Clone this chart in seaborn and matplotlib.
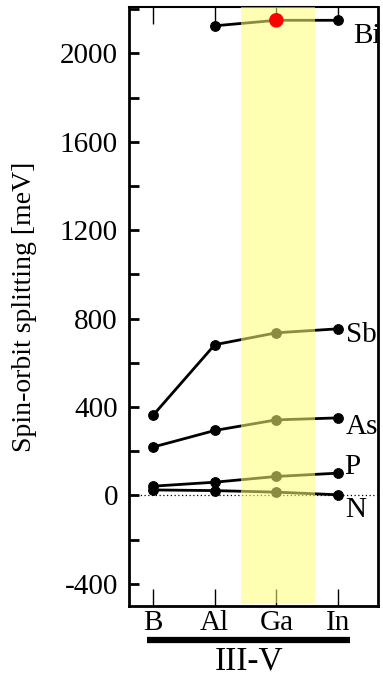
import matplotlib
matplotlib.use("Agg")
import matplotlib.pyplot as plt
import matplotlib.transforms as mtransforms
import seaborn as sns
import pandas as pd
import numpy as np

categories = ["B", "Al", "Ga", "In"]
bi_vals = [None, 2125, 2150, 2150]
sb_vals = [363, 682, 736, 754]
as_vals = [219, 294, 342, 351]
p_vals = [42, 60, 86, 101]
n_vals = [25, 22, 15, 3]
series_names = ["Bi", "Sb", "As", "P", "N"]
series_vals = [bi_vals, sb_vals, as_vals, p_vals, n_vals]
label_y = [2081, 724, 312, 131, -68]
label_x = [3.24, 3.13, 3.13, 3.1, 3.12]
highlight_cat = "Ga"
highlight_val = 2150
y_major = [-400, 0, 400, 800, 1200, 1600, 2000]

sns.set_theme(style="white")
plt.rcParams["font.family"] = ["Liberation Serif", "DejaVu Serif"]
plt.rcParams["text.color"] = "black"
plt.rcParams["axes.labelcolor"] = "black"
plt.rcParams["xtick.color"] = "black"
plt.rcParams["ytick.color"] = "black"

rows = []
for name, vals in zip(series_names, series_vals):
    for c, v in zip(categories, vals):
        if v is not None:
            rows.append({"series": name, "pos": categories.index(c), "value": v})
df = pd.DataFrame(rows)

fig = plt.figure(figsize=(3.83, 6.76), dpi=100)
ax = fig.add_axes([0.337, 0.1036, 0.650, 0.886])

for name in series_names:
    sub = df[df.series == name]
    sns.lineplot(data=sub, x="pos", y="value", ax=ax, color="black", lw=2,
                 marker="o", markersize=7, markeredgecolor="black", zorder=3)

ax.axhline(0, color="black", lw=0.9, ls=(0, (1, 2)), zorder=2)

gi = categories.index(highlight_cat)
ax.axvspan(gi - 0.58, gi + 0.62, ymin=0.005, ymax=1, color="#ffff77", alpha=0.55, lw=0, zorder=4)
ax.scatter([gi], [highlight_val], s=110, color="#ff0000", zorder=6, edgecolor="none")

for name, lx, ly in zip(series_names, label_x, label_y):
    ax.text(lx, ly, name, fontsize=21, va="center", ha="left", zorder=7, color="black")

ax.set_xlim(-0.39, 3.65)
ax.set_ylim(-500, 2210)
ax.set_xticks(range(len(categories)))
ax.set_xticklabels(categories, fontsize=21)
ax.set_yticks(y_major)
ax.set_yticklabels([str(v) for v in y_major], fontsize=21)
ax.set_yticks(np.arange(-400, 2201, 200), minor=True)
ax.tick_params(axis="y", which="both", direction="in", length=7, width=2, left=True, right=False, pad=8, colors="black")
ax.tick_params(axis="x", which="major", direction="in", length=12, width=1, bottom=True, top=True, pad=3, colors="black")
ax.set_xlabel("")
ax.set_ylabel("Spin-orbit splitting [meV]", fontsize=20, color="black")
ax.yaxis.set_label_coords(-0.37, 0.5)
for s in ax.spines.values():
    s.set_color("black")
    s.set_linewidth(2)
ax.spines["top"].set_linewidth(1.5)

trans = mtransforms.blended_transform_factory(ax.transData, ax.transAxes)
ax.plot([-0.1, 3.2], [-0.057, -0.057], transform=trans, color="black", lw=4.5, clip_on=False, solid_capstyle="butt")
ax.text(1.55, -0.092, "III-V", transform=trans, ha="center", va="center", fontsize=24, color="black")

fig.savefig("out.png", dpi=100)
